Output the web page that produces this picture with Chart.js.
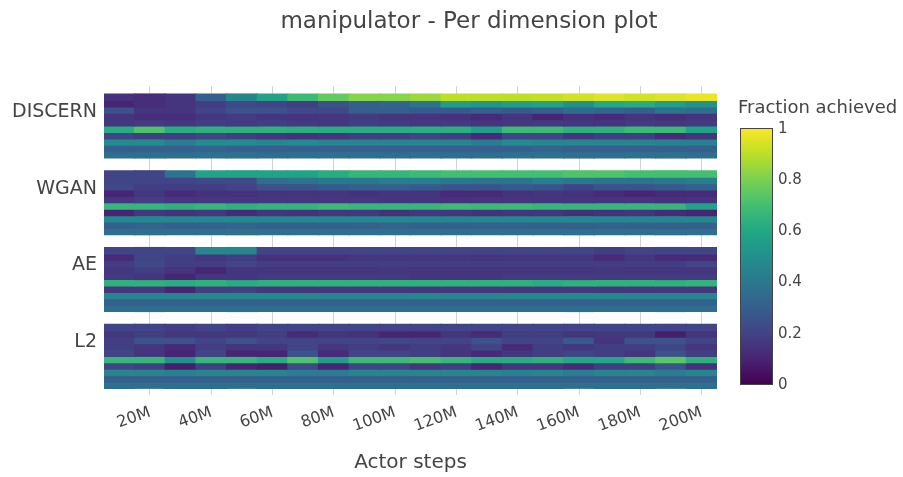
<!DOCTYPE html>
<html>
<head>
<meta charset="utf-8">
<script src="https://cdn.jsdelivr.net/npm/chart.js@4.4.1/dist/chart.umd.min.js"></script>
<style>
  html, body { margin: 0; padding: 0; background: #fff; }
  #wrap { width: 903px; height: 477px; position: relative; }
</style>
</head>
<body>
<div id="wrap"><canvas id="heat"></canvas></div>
<script>
// Column labels (actor steps, one column per 10M)
const columnLabels = ["10M","20M","30M","40M","50M","60M","70M","80M","90M","100M",
  "110M","120M","130M","140M","150M","160M","170M","180M","190M","200M"];
const panelNames = ["DISCERN", "WGAN", "AE", "L2"];
const colorTicks = [0, 0.2, 0.4, 0.6, 0.8, 1];

// Fraction achieved per dimension (10 rows, top to bottom) per method
const discernRows = [
  [0.14,0.13,0.15,0.30,0.45,0.58,0.68,0.76,0.82,0.82,0.85,0.90,0.90,0.90,0.91,0.93,0.95,0.93,0.95,0.97],
  [0.10,0.13,0.15,0.18,0.22,0.20,0.18,0.25,0.30,0.32,0.38,0.55,0.52,0.55,0.58,0.50,0.60,0.62,0.55,0.50],
  [0.25,0.15,0.15,0.20,0.25,0.26,0.22,0.22,0.30,0.30,0.28,0.28,0.30,0.28,0.30,0.35,0.32,0.30,0.38,0.35],
  [0.15,0.13,0.13,0.16,0.17,0.15,0.15,0.16,0.17,0.15,0.15,0.14,0.12,0.15,0.10,0.14,0.12,0.15,0.13,0.15],
  [0.16,0.17,0.16,0.18,0.17,0.18,0.17,0.16,0.18,0.17,0.16,0.17,0.15,0.16,0.17,0.16,0.15,0.17,0.16,0.17],
  [0.62,0.72,0.62,0.64,0.64,0.64,0.63,0.62,0.62,0.62,0.63,0.63,0.55,0.68,0.68,0.64,0.64,0.68,0.68,0.58],
  [0.20,0.18,0.18,0.20,0.18,0.16,0.14,0.16,0.18,0.18,0.20,0.18,0.12,0.20,0.20,0.15,0.18,0.18,0.12,0.15],
  [0.48,0.48,0.42,0.48,0.48,0.46,0.48,0.45,0.46,0.46,0.46,0.46,0.42,0.48,0.46,0.46,0.46,0.46,0.44,0.44],
  [0.30,0.30,0.30,0.32,0.30,0.30,0.30,0.30,0.30,0.30,0.30,0.30,0.30,0.30,0.32,0.30,0.30,0.30,0.30,0.30],
  [0.36,0.36,0.36,0.37,0.37,0.36,0.37,0.37,0.37,0.36,0.37,0.36,0.36,0.37,0.37,0.36,0.36,0.37,0.37,0.36]
];
const wganRows = [
  [0.20,0.20,0.38,0.58,0.58,0.58,0.58,0.62,0.66,0.66,0.68,0.70,0.70,0.70,0.70,0.72,0.72,0.70,0.70,0.70],
  [0.20,0.20,0.20,0.22,0.22,0.35,0.38,0.40,0.40,0.42,0.42,0.40,0.38,0.38,0.42,0.40,0.38,0.38,0.40,0.42],
  [0.22,0.18,0.18,0.18,0.20,0.25,0.25,0.28,0.30,0.30,0.28,0.26,0.26,0.28,0.26,0.20,0.25,0.25,0.28,0.30],
  [0.10,0.16,0.12,0.14,0.14,0.15,0.15,0.15,0.14,0.15,0.15,0.12,0.12,0.14,0.15,0.14,0.12,0.10,0.12,0.12],
  [0.16,0.18,0.16,0.16,0.16,0.16,0.16,0.16,0.16,0.15,0.15,0.14,0.15,0.15,0.15,0.15,0.15,0.15,0.14,0.15],
  [0.66,0.66,0.64,0.66,0.64,0.65,0.65,0.68,0.66,0.66,0.66,0.68,0.67,0.68,0.66,0.66,0.66,0.66,0.66,0.58],
  [0.10,0.16,0.14,0.16,0.12,0.15,0.14,0.16,0.16,0.14,0.16,0.15,0.14,0.15,0.15,0.13,0.14,0.15,0.12,0.10],
  [0.47,0.47,0.47,0.47,0.47,0.47,0.47,0.47,0.47,0.47,0.47,0.46,0.47,0.47,0.47,0.47,0.47,0.46,0.46,0.46],
  [0.30,0.32,0.30,0.30,0.32,0.30,0.30,0.30,0.30,0.32,0.30,0.30,0.30,0.30,0.30,0.30,0.30,0.30,0.30,0.30],
  [0.36,0.36,0.36,0.37,0.37,0.36,0.36,0.36,0.37,0.36,0.36,0.36,0.37,0.37,0.36,0.36,0.37,0.36,0.36,0.36]
];
const aeRows = [
  [0.20,0.20,0.20,0.45,0.45,0.20,0.20,0.20,0.20,0.20,0.20,0.20,0.20,0.20,0.20,0.20,0.18,0.20,0.20,0.20],
  [0.12,0.20,0.18,0.16,0.18,0.14,0.14,0.14,0.16,0.16,0.16,0.16,0.15,0.16,0.16,0.16,0.12,0.16,0.12,0.12],
  [0.18,0.22,0.18,0.18,0.20,0.18,0.18,0.18,0.18,0.18,0.18,0.18,0.18,0.18,0.18,0.18,0.18,0.18,0.18,0.20],
  [0.16,0.18,0.15,0.10,0.15,0.15,0.15,0.15,0.15,0.16,0.15,0.15,0.15,0.15,0.15,0.15,0.16,0.15,0.15,0.15],
  [0.17,0.15,0.10,0.16,0.15,0.17,0.17,0.17,0.17,0.17,0.15,0.15,0.15,0.17,0.17,0.17,0.17,0.17,0.17,0.17],
  [0.64,0.64,0.62,0.64,0.62,0.64,0.64,0.64,0.64,0.64,0.64,0.64,0.64,0.64,0.62,0.64,0.64,0.64,0.64,0.65],
  [0.16,0.16,0.10,0.18,0.18,0.16,0.16,0.16,0.16,0.16,0.16,0.16,0.16,0.16,0.16,0.16,0.16,0.16,0.16,0.16],
  [0.46,0.46,0.46,0.47,0.47,0.47,0.47,0.46,0.46,0.46,0.47,0.46,0.46,0.47,0.47,0.47,0.47,0.46,0.46,0.46],
  [0.30,0.30,0.30,0.30,0.30,0.30,0.30,0.30,0.30,0.30,0.30,0.30,0.30,0.30,0.30,0.30,0.30,0.30,0.30,0.30],
  [0.36,0.36,0.36,0.36,0.36,0.36,0.36,0.36,0.36,0.36,0.36,0.36,0.36,0.36,0.36,0.36,0.36,0.36,0.36,0.36]
];
const l2Rows = [
  [0.20,0.20,0.18,0.20,0.18,0.20,0.20,0.20,0.20,0.20,0.20,0.20,0.20,0.20,0.20,0.20,0.20,0.20,0.20,0.20],
  [0.16,0.18,0.16,0.16,0.16,0.18,0.12,0.15,0.14,0.10,0.10,0.15,0.12,0.18,0.18,0.15,0.16,0.16,0.08,0.15],
  [0.18,0.25,0.25,0.20,0.25,0.20,0.20,0.20,0.20,0.22,0.20,0.20,0.25,0.20,0.20,0.28,0.15,0.25,0.25,0.20],
  [0.18,0.16,0.12,0.18,0.15,0.16,0.20,0.16,0.18,0.16,0.18,0.16,0.20,0.12,0.18,0.16,0.18,0.18,0.20,0.16],
  [0.20,0.15,0.10,0.20,0.10,0.10,0.25,0.12,0.20,0.20,0.18,0.15,0.12,0.16,0.18,0.20,0.18,0.15,0.25,0.18],
  [0.66,0.66,0.50,0.66,0.66,0.62,0.72,0.55,0.68,0.68,0.70,0.66,0.62,0.62,0.64,0.60,0.60,0.68,0.74,0.64],
  [0.20,0.18,0.08,0.18,0.10,0.08,0.22,0.10,0.20,0.20,0.16,0.18,0.10,0.16,0.16,0.12,0.18,0.18,0.25,0.14],
  [0.45,0.45,0.44,0.45,0.45,0.45,0.42,0.42,0.45,0.45,0.45,0.45,0.45,0.44,0.45,0.42,0.45,0.45,0.42,0.45],
  [0.30,0.30,0.30,0.30,0.30,0.30,0.30,0.30,0.30,0.30,0.30,0.30,0.30,0.30,0.30,0.30,0.30,0.30,0.30,0.30],
  [0.36,0.36,0.36,0.36,0.36,0.36,0.36,0.36,0.36,0.36,0.36,0.36,0.36,0.36,0.36,0.36,0.36,0.36,0.36,0.36]
];
const panels = [discernRows, wganRows, aeRows, l2Rows];

// viridis colour scale
const viridis = ["#440154","#482475","#414487","#355f8d","#2a788e","#21918c",
  "#22a884","#44bf70","#7ad151","#bddf26","#fde725"];
function hexRgb(h) {
  return [parseInt(h.slice(1, 3), 16), parseInt(h.slice(3, 5), 16), parseInt(h.slice(5, 7), 16)];
}
function colorFor(v) {
  const t = Math.max(0, Math.min(1, v)) * 10;
  const i = Math.min(9, Math.floor(t));
  const f = t - i;
  const a = hexRgb(viridis[i]), b = hexRgb(viridis[i + 1]);
  const c = a.map((x, k) => Math.round(x + (b[k] - x) * f));
  return `rgb(${c[0]},${c[1]},${c[2]})`;
}

const PANEL_STEP = 12; // 10 rows + 2 rows of gap

// one floating-bar dataset per heatmap row
const datasets = [];
panels.forEach((rows, p) => {
  rows.forEach((vals, r) => {
    const y0 = p * PANEL_STEP + r;
    datasets.push({
      data: vals.map(() => [y0, y0 + 1]),
      backgroundColor: vals.map(colorFor),
      borderWidth: 0,
      inflateAmount: 0.6,
      grouped: false,
      barPercentage: 1,
      categoryPercentage: 1
    });
  });
});

const FONT = '"DejaVu Sans", Verdana, sans-serif';

// title and colorbar drawn on top
const extras = {
  id: "extras",
  afterDraw(chart) {
    const ctx = chart.ctx;
    const area = chart.chartArea;
    ctx.save();
    ctx.fillStyle = "#444";
    ctx.font = "23px " + FONT;
    ctx.textAlign = "center";
    ctx.textBaseline = "middle";
    ctx.fillText("manipulator - Per dimension plot", 469, 22);

    // colorbar
    const x0 = area.right + 23, w = 32, top = 128, bottom = 384;
    const grad = ctx.createLinearGradient(0, bottom, 0, top);
    viridis.forEach((c, i) => grad.addColorStop(i / 10, c));
    ctx.fillStyle = grad;
    ctx.fillRect(x0, top, w, bottom - top);
    ctx.strokeStyle = "#444";
    ctx.lineWidth = 1;
    ctx.strokeRect(x0 + 0.5, top + 0.5, w, bottom - top);

    ctx.fillStyle = "#444";
    ctx.font = "15px " + FONT;
    ctx.textAlign = "left";
    colorTicks.forEach(t => {
      const y = bottom - t * (bottom - top) + 1;
      ctx.fillText(String(t), x0 + w + 6, y);
    });
    ctx.font = "18px " + FONT;
    ctx.fillText("Fraction achieved", area.right + 21, 108);
    ctx.restore();
  }
};

new Chart(document.getElementById("heat"), {
  type: "bar",
  data: { labels: columnLabels, datasets: datasets },
  options: {
    responsive: true,
    maintainAspectRatio: false,
    animation: false,
    layout: { padding: { left: 0, right: 186, top: 86, bottom: 0 } },
    plugins: {
      legend: { display: false },
      tooltip: { enabled: false }
    },
    scales: {
      x: {
        type: "category",
        border: { display: false },
        grid: {
          offset: false,
          drawTicks: false,
          color: (c) => (c.index % 2 === 1 ? "#d2d2d2" : "rgba(0,0,0,0)")
        },
        ticks: {
          autoSkip: false,
          minRotation: 20,
          maxRotation: 20,
          padding: 8,
          color: "#444",
          font: { family: FONT, size: 16 },
          callback: function (v, i) { return i % 2 === 1 ? this.getLabelForValue(v) : ""; }
        },
        title: {
          display: true,
          text: "Actor steps",
          color: "#444",
          font: { family: FONT, size: 20 },
          padding: { top: 10, bottom: 2 }
        },
        afterFit(s) { s.height = 82; }
      },
      y: {
        type: "linear",
        reverse: true,
        min: -1.25,
        max: 47.05,
        border: { display: false },
        grid: { display: false, drawTicks: false },
        afterBuildTicks(s) {
          s.ticks = panelNames.map((n, p) => ({ value: p * PANEL_STEP + 2.8 }));
        },
        ticks: {
          padding: 7,
          color: "#444",
          font: { family: FONT, size: 19 },
          callback: (v) => panelNames[Math.round((v - 2.8) / PANEL_STEP)]
        },
        afterFit(s) { s.width = 104; }
      }
    }
  },
  plugins: [extras]
});
</script>
</body>
</html>
